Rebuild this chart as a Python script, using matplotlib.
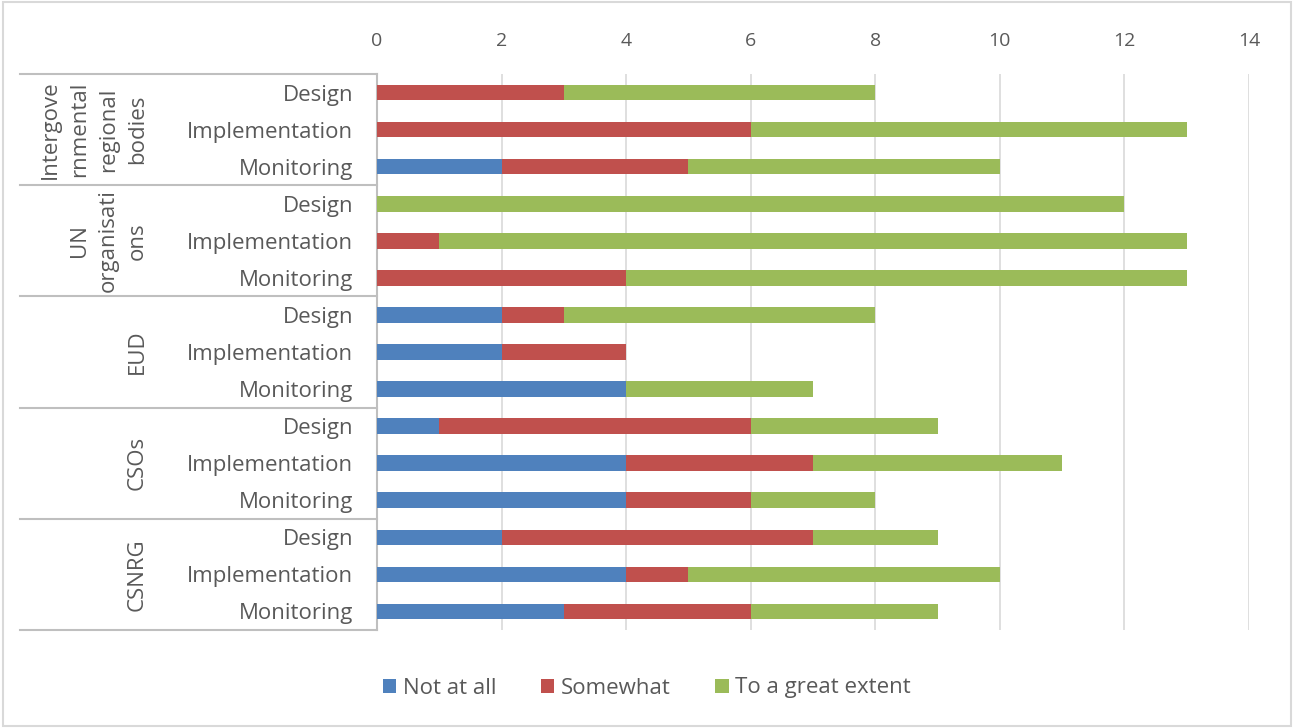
import matplotlib.pyplot as plt
from matplotlib.patches import Rectangle

groups = ['Intergove\nrnmental\nregional\nbodies', 'UN\norganisati\nons', 'EUD', 'CSOs', 'CSNRG']
stages = ['Design', 'Implementation', 'Monitoring']
series = ['Not at all', 'Somewhat', 'To a great extent']
colors = ['#4f81bd', '#c0504d', '#9bbb59']

# one value per row, top to bottom (group by group, Design/Implementation/Monitoring)
not_at_all = [0, 0, 2, 0, 0, 0, 2, 2, 4, 1, 4, 4, 2, 4, 3]
somewhat = [3, 6, 3, 0, 1, 4, 1, 2, 0, 5, 3, 2, 5, 1, 3]
great_extent = [5, 7, 5, 12, 12, 9, 5, 0, 3, 3, 4, 2, 2, 5, 3]
xticks = [0, 2, 4, 6, 8, 10, 12, 14]

plt.rcParams['font.family'] = ['Open Sans', 'DejaVu Sans']
txt = '#595959'
line_col = '#bfbfbf'

fig = plt.figure(figsize=(12.94, 7.28), dpi=100)
ax = fig.add_axes([377 / 1294, 1 - 630 / 728, 872 / 1294, 556 / 728])

n = len(not_at_all)
ypos = list(range(n))
left = [0] * n
for vals, name, col in zip([not_at_all, somewhat, great_extent], series, colors):
    ax.barh(ypos, vals, left=left, height=0.42, color=col, label=name, zorder=3)
    left = [a + b for a, b in zip(left, vals)]

ax.set_ylim(n - 0.5, -0.5)
ax.set_xlim(0, 14)
ax.set_xticks(xticks)
ax.xaxis.tick_top()
ax.tick_params(axis='x', length=0, pad=17, labelsize=14, labelcolor=txt)
ax.set_yticks(ypos)
ax.set_yticklabels(stages * len(groups))
ax.tick_params(axis='y', length=0, pad=17, labelsize=16, labelcolor=txt)
for x in xticks[1:]:
    ax.axvline(x, color='#d9d9d9', lw=1.2, zorder=1)

for s in ['top', 'right', 'bottom']:
    ax.spines[s].set_visible(False)
ax.spines['left'].set_color(line_col)
ax.spines['left'].set_linewidth(1.5)

# group separators and labels
trans = ax.get_yaxis_transform()
x0 = (20 - 377) / 872
for i in range(len(groups) + 1):
    yb = i * 3 - 0.5
    ax.plot([x0, 0], [yb, yb], color=line_col, lw=1.5, transform=trans, clip_on=False)
for i, g in enumerate(groups):
    ax.text((148 - 377) / 872, i * 3 + 1, g, transform=trans, rotation=90,
            ha='right', va='center', multialignment='center', fontsize=16,
            color=txt, linespacing=1.5)

fig.legend(loc='center', bbox_to_anchor=(0.5, 1 - 688 / 728), ncol=3, frameon=False,
           fontsize=16, labelcolor=txt, handlelength=0.6, handleheight=0.6,
           handletextpad=0.3, columnspacing=2.0)

fig.patches.append(Rectangle((0.002, 0.003), 0.996, 0.994, transform=fig.transFigure,
                             fill=False, edgecolor='#d9d9d9', lw=1.5))

fig.savefig('out.png', dpi=100)
